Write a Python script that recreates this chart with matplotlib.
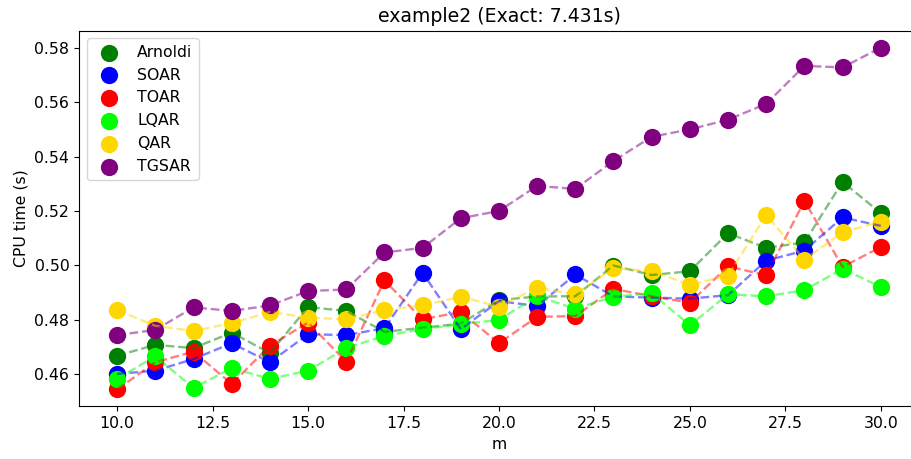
import numpy as np
import matplotlib
matplotlib.use("Agg")
import matplotlib.pyplot as plt

# so chieu Krylov m
m = list(range(10, 31))

arnoldi = [0.4667, 0.4707, 0.4695, 0.4752, 0.4677, 0.4846, 0.4832, 0.4755, 0.4770, 0.4785, 0.4872,
           0.4885, 0.4886, 0.4999, 0.4964, 0.4978, 0.5118, 0.5064, 0.5084, 0.5307, 0.5192]
soar = [0.4600, 0.4612, 0.4655, 0.4713, 0.4643, 0.4746, 0.4743, 0.4768, 0.4972, 0.4765, 0.4868,
        0.4850, 0.4966, 0.4885, 0.4881, 0.4877, 0.4890, 0.5017, 0.5054, 0.5176, 0.5145]
toar = [0.4543, 0.4643, 0.4682, 0.4563, 0.4704, 0.4789, 0.4645, 0.4944, 0.4801, 0.4828, 0.4713,
        0.4810, 0.4813, 0.4913, 0.4886, 0.4862, 0.4996, 0.4963, 0.5237, 0.4994, 0.5067]
lqar = [0.4582, 0.4665, 0.4548, 0.4621, 0.4582, 0.4612, 0.4695, 0.4740, 0.4765, 0.4783, 0.4799,
        0.4886, 0.4840, 0.4884, 0.4897, 0.4779, 0.4893, 0.4886, 0.4908, 0.4987, 0.4920]
qar = [0.4835, 0.4777, 0.4758, 0.4787, 0.4828, 0.4807, 0.4801, 0.4835, 0.4852, 0.4884, 0.4848,
       0.4917, 0.4893, 0.4990, 0.4978, 0.4929, 0.4962, 0.5185, 0.5021, 0.5121, 0.5161]
tgsar = [0.4743, 0.4762, 0.4845, 0.4832, 0.4852, 0.4905, 0.4911, 0.5047, 0.5064, 0.5173, 0.5200,
         0.5292, 0.5281, 0.5384, 0.5473, 0.5500, 0.5536, 0.5594, 0.5734, 0.5728, 0.5801]

names = ["Arnoldi", "SOAR", "TOAR", "LQAR", "QAR", "TGSAR"]
colors = ["green", "blue", "red", "lime", "gold", "purple"]
series = [arnoldi, soar, toar, lqar, qar, tgsar]

plt.rcParams["font.size"] = 11.3

fig = plt.figure(figsize=(9.11, 4.59), dpi=100)
# truc phai nam ngoai khung anh, giong hinh goc
ax = fig.add_axes([0.0867, 0.1144, 0.922, 0.819])

for name, col, y in zip(names, colors, series):
    ax.scatter(m, y, s=155, color=col, linewidths=0, label=name)
    ax.plot(m, y, "--", color=col, alpha=0.5, lw=1.7)

ax.set_xlim(m[0] - 1, m[-1] + 1)
ax.set_title("example2 (Exact: 7.431s)")
ax.set_xlabel("m")
ax.set_ylabel("CPU time (s)")
ax.legend(loc="upper left")

fig.savefig("out.png", dpi=100)
